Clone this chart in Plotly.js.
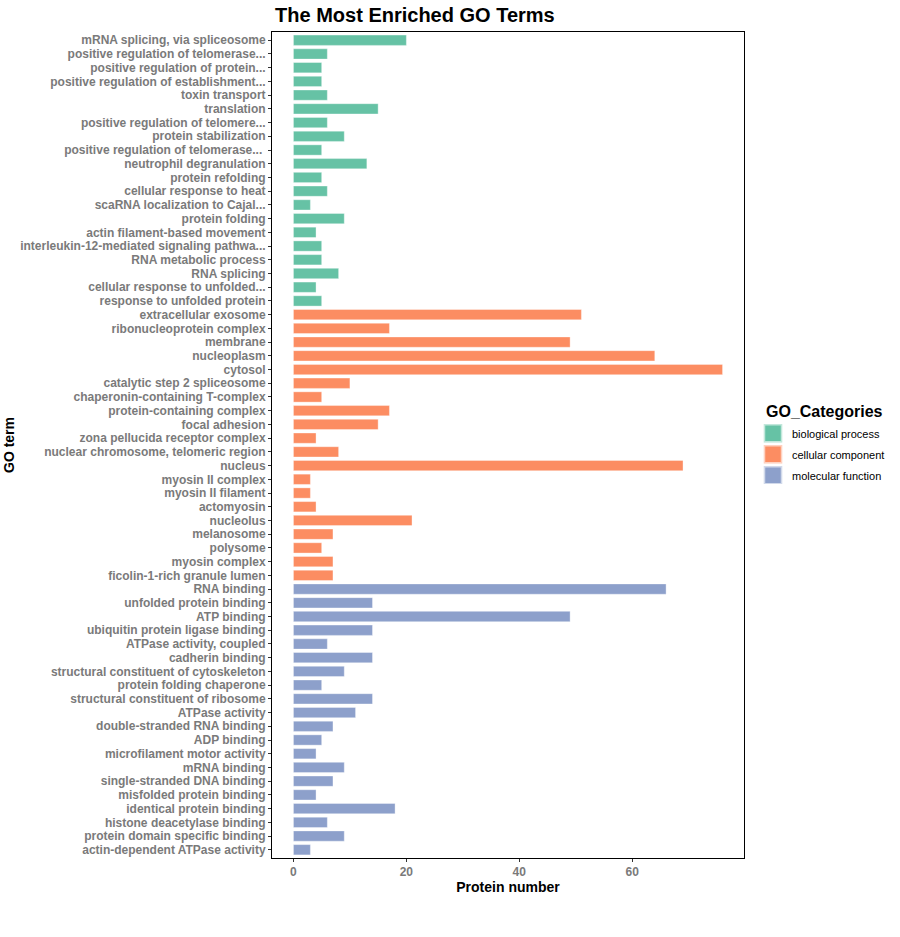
<!DOCTYPE html>
<html>
<head>
<meta charset="utf-8">
<script src="https://cdn.plot.ly/plotly-3.0.1.min.js"></script>
<style>html,body{margin:0;padding:0;background:#fff;}#chart{width:900px;height:937px;}</style>
</head>
<body>
<div id="chart"></div>
<script>
// ---- data ----
const bpTerms = ["mRNA splicing, via spliceosome","positive regulation of telomerase...","positive regulation of protein...","positive regulation of establishment...","toxin transport","translation","positive regulation of telomere...","protein stabilization","positive regulation of telomerase... ","neutrophil degranulation","protein refolding","cellular response to heat","scaRNA localization to Cajal...","protein folding","actin filament-based movement","interleukin-12-mediated signaling pathwa...","RNA metabolic process","RNA splicing","cellular response to unfolded...","response to unfolded protein"];
const bpCounts = [20,6,5,5,6,15,6,9,5,13,5,6,3,9,4,5,5,8,4,5];

const ccTerms = ["extracellular exosome","ribonucleoprotein complex","membrane","nucleoplasm","cytosol","catalytic step 2 spliceosome","chaperonin-containing T-complex","protein-containing complex","focal adhesion","zona pellucida receptor complex","nuclear chromosome, telomeric region","nucleus","myosin II complex","myosin II filament","actomyosin","nucleolus","melanosome","polysome","myosin complex","ficolin-1-rich granule lumen"];
const ccCounts = [51,17,49,64,76,10,5,17,15,4,8,69,3,3,4,21,7,5,7,7];

const mfTerms = ["RNA binding","unfolded protein binding","ATP binding","ubiquitin protein ligase binding","ATPase activity, coupled","cadherin binding","structural constituent of cytoskeleton","protein folding chaperone","structural constituent of ribosome","ATPase activity","double-stranded RNA binding","ADP binding","microfilament motor activity","mRNA binding","single-stranded DNA binding","misfolded protein binding","identical protein binding","histone deacetylase binding","protein domain specific binding","actin-dependent ATPase activity"];
const mfCounts = [66,14,49,14,6,14,9,5,14,11,7,5,4,9,7,4,18,6,9,3];

const groupNames = ["biological process","cellular component","molecular function"];
const groupColors = ["#66C2A5","#FC8D62","#8DA0CB"];
const xTicks = [0,20,40,60];

// ---- build ----
const allTerms = bpTerms.concat(ccTerms, mfTerms);
const groups = [[bpTerms,bpCounts],[ccTerms,ccCounts],[mfTerms,mfCounts]];
const traces = groups.map((g,i)=>({
  type:'bar', orientation:'h',
  y:g[0], x:g[1], name:groupNames[i],
  width:0.75,
  marker:{color:groupColors[i], line:{color:'rgba(255,255,255,0.6)', width:0.6}},
  hoverinfo:'x+y'
}));

const FONT = 'Liberation Sans, Arial, sans-serif';
const tickFont = {family:FONT, size:12, color:'#7a7a7a', weight:'bold'};
const layout = {
  width:900, height:937,
  margin:{l:272, r:156, t:32, b:79, pad:0, autoexpand:false},
  paper_bgcolor:'#fff', plot_bgcolor:'#fff',
  barmode:'overlay',
  font:{family:FONT},
  title:{text:'<b>The Most Enriched GO Terms</b>', xref:'container', x:0.461, xanchor:'center',
         yref:'container', y:1-15/937, yanchor:'middle',
         font:{family:FONT, size:20, color:'#000'}},
  xaxis:{
    range:[-3.8,79.8], tickmode:'array', tickvals:xTicks, ticktext:xTicks.map(String),
    showgrid:false, zeroline:false,
    showline:true, mirror:true, linecolor:'#000', linewidth:1,
    ticks:'outside', ticklen:3, tickcolor:'#333', tickwidth:1,
    tickfont:tickFont,
    title:{text:'<b>Protein number</b>', standoff:3, font:{family:FONT, size:14, color:'#000'}}
  },
  yaxis:{
    type:'category', categoryorder:'array', categoryarray:allTerms,
    tickmode:'array', tickvals:allTerms, ticktext:allTerms,
    range:[allTerms.length-0.4, -0.6],
    showgrid:false, zeroline:false,
    showline:true, mirror:true, linecolor:'#000', linewidth:1,
    ticks:'outside', ticklen:3, tickcolor:'#333', tickwidth:1,
    tickfont:tickFont, automargin:false,
    title:{text:'<b>GO term</b>', standoff:2, font:{family:FONT, size:14, color:'#000'}}
  },
  showlegend:true,
  legend:{
    xref:'container', yref:'container',
    x:752/900, xanchor:'left', y:1-396/937, yanchor:'top',
    title:{text:'<b>GO_Categories</b>', font:{family:FONT, size:16, color:'#000'}},
    font:{family:FONT, size:11, color:'#000'},
    tracegroupgap:0, itemsizing:'constant', bgcolor:'rgba(0,0,0,0)'
  }
};
Plotly.newPlot('chart', traces, layout, {displayModeBar:false, staticPlot:true}).then(function(gd){
  // ggplot-like legend keys: larger swatches, slightly wider spacing
  gd.querySelectorAll('.legend .legendpoints path').forEach(function(p){
    p.setAttribute('transform','translate(21,0) scale(1.55,1.55)');
  });
  var tt = gd.querySelector('.legend .legendtitletext');
  if (tt) tt.setAttribute('transform','translate(12,0)');
  gd.querySelectorAll('.legend .traces').forEach(function(t,i){
    var tr = t.getAttribute('transform') || '';
    var m = tr.match(/translate\(\s*([-\d.]+)[ ,]+([-\d.]+)\s*\)/);
    if (m) t.setAttribute('transform','translate(' + m[1] + ',' + (parseFloat(m[2]) + 2 + i*2) + ')');
  });
});
</script>
</body>
</html>
